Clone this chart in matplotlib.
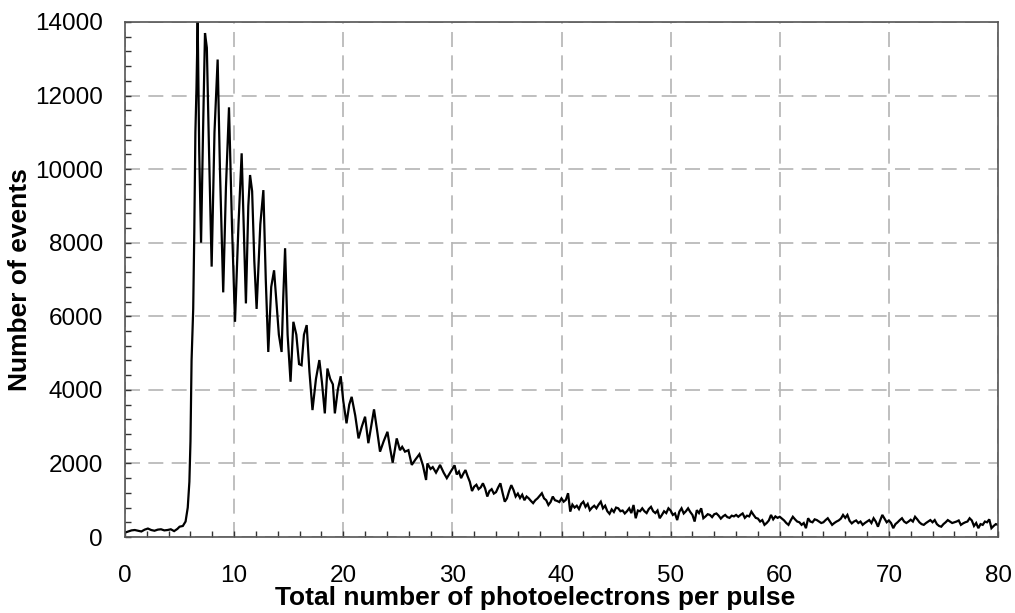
import matplotlib
matplotlib.use("Agg")
import matplotlib.pyplot as plt
from matplotlib.ticker import MultipleLocator

# photoelectron number (x) and event counts (y): rise + oscillating peak region
pe_peak = [0.0, 0.3, 0.6, 0.9, 1.2, 1.5, 1.8, 2.1, 2.4, 2.7, 3.0, 3.3, 3.6, 3.9, 4.2, 4.5, 4.8, 5.0, 5.3,
           5.55, 5.75, 5.9, 6.0, 6.1, 6.25, 6.35, 6.45, 6.55, 6.66, 6.8, 6.97, 7.15, 7.33, 7.5, 7.7, 7.94,
           8.2, 8.49, 8.7, 9.0, 9.25, 9.53, 9.8, 10.08, 10.4, 10.69, 10.9, 11.08, 11.3, 11.46, 11.65, 11.85,
           12.06, 12.4, 12.68, 12.9, 13.13, 13.4, 13.66, 13.9, 14.1, 14.35, 14.5, 14.67, 14.9, 15.17, 15.43,
           15.7, 15.95, 16.18, 16.4, 16.65, 16.9, 17.18, 17.5, 17.81, 18.05, 18.31, 18.55, 18.8, 19.05, 19.23,
           19.5, 19.77, 20.0, 20.3, 20.55, 20.77, 21.1, 21.4, 21.7, 22.0, 22.3, 22.55, 22.82, 23.1, 23.37,
           23.7, 24.05, 24.3, 24.53, 24.9, 25.2, 25.4, 25.66, 25.97, 26.28, 26.6, 26.98, 27.3, 27.59, 27.71,
           28.0, 28.2, 28.5, 28.72, 28.87, 29.2, 29.49, 29.8]
events_peak = [120, 150, 180, 190, 170, 150, 200, 230, 190, 170, 200, 210, 180, 190, 210, 160, 220, 280, 300,
               420, 800, 1500, 2600, 4800, 6200, 8300, 11000, 12200, 14000, 10500, 8000, 11000, 13700, 13300, 10500, 7350,
               11000, 12980, 10000, 6650, 9500, 11680, 8500, 5850, 8500, 10430, 8200, 6350, 9000, 9840, 9400, 7500,
               6200, 8500, 9430, 7000, 5030, 6800, 7250, 6300, 5500, 5030, 6500, 7850, 5500, 4220, 5850,
               5500, 4700, 4670, 5500, 5760, 4500, 3450, 4300, 4810, 4200, 3360, 4580, 4300, 4150, 3360,
               4000, 4370, 3700, 3090, 3600, 3810, 3300, 2680, 3000, 3270, 2550, 3000, 3470, 2900, 2320,
               2600, 2860, 2400, 2020, 2680, 2360, 2450, 2320, 2360, 1960, 2100, 2250, 1950, 1550, 2000,
               1850, 1900, 1750, 1870, 1960, 1750, 1600, 1750]

# tail region, one reading every 0.2 photoelectrons from 30 to 80
pe_tail = [30 + 0.2 * i for i in range(251)]
events_tail = [1850, 1950, 1700, 1780, 1600, 1720, 1820, 1650, 1500, 1250,
               1370, 1420, 1300, 1350, 1460, 1320, 1100, 1250, 1300, 1180,
               1220, 1350, 1460, 1200, 960, 1050, 1250, 1410, 1280, 1100,
               1180, 1060, 1150, 1000, 1100, 1050, 980, 920, 1000, 1050,
               1120, 1190, 1050, 1000, 870, 950, 1100, 1000, 980, 950,
               1050, 960, 1010, 1190, 690, 880, 800, 850, 760, 900,
               960, 820, 900, 730, 800, 850, 780, 880, 960, 780,
               850, 700, 630, 750, 680, 800, 780, 700, 720, 640,
               700, 780, 650, 870, 510, 720, 700, 780, 700, 650,
               760, 820, 700, 650, 720, 510, 600, 700, 650, 780,
               720, 600, 640, 460, 690, 780, 640, 700, 780, 680,
               600, 420, 730, 650, 780, 510, 560, 620, 600, 540,
               620, 640, 580, 500, 560, 600, 540, 520, 580, 560,
               600, 550, 600, 640, 520, 580, 560, 690, 600, 520,
               500, 420, 460, 330, 380, 450, 600, 480, 560, 520,
               550, 500, 450, 380, 330, 450, 550, 480, 420, 400,
               330, 380, 240, 510, 420, 400, 480, 460, 420, 380,
               400, 460, 510, 420, 330, 380, 420, 450, 500, 600,
               520, 600, 440, 370, 420, 450, 380, 420, 330, 380,
               420, 460, 380, 510, 420, 280, 450, 600, 500, 400,
               450, 380, 240, 350, 400, 460, 510, 420, 380, 420,
               470, 420, 550, 480, 400, 350, 330, 380, 420, 460,
               400, 460, 350, 300, 280, 350, 400, 460, 420, 380,
               400, 420, 450, 330, 370, 400, 420, 510, 450, 300,
               380, 240, 350, 330, 420, 400, 480, 240, 300, 350,
               330]

x_ticks = [0, 10, 20, 30, 40, 50, 60, 70, 80]
y_ticks = [0, 2000, 4000, 6000, 8000, 10000, 12000, 14000]

plt.rcParams['font.family'] = ['Liberation Sans', 'DejaVu Sans']

fig = plt.figure(figsize=(10.15, 6.13), dpi=100)
ax = fig.add_axes([125/1015, 1-537/613, (998-125)/1015, (537-22)/613])

ax.plot(pe_peak + pe_tail, events_peak + events_tail, color='black', lw=1.6, solid_joinstyle='miter')

ax.set_xlim(0, 80)
ax.set_ylim(0, 14000)
ax.set_xticks(x_ticks)
ax.set_yticks(y_ticks)
ax.xaxis.set_minor_locator(MultipleLocator(2))
ax.yaxis.set_minor_locator(MultipleLocator(400))

ax.grid(True, which='major', color='#b4b4b4', linestyle=(0, (9, 5)), lw=1.2)
ax.tick_params(which='both', direction='in', length=4, width=1, color='#333333',
               top=False, right=False)
ax.tick_params(axis='x', which='major', labelsize=17.5, pad=20)
ax.tick_params(axis='y', which='major', labelsize=17.5, pad=16)
for s in ax.spines.values():
    s.set_color('#555555')
    s.set_linewidth(1.2)

ax.set_xlabel('Total number of photoelectrons per pulse', fontsize=19, fontweight='bold')
ax.xaxis.set_label_coords(0.47, -0.095)
ax.set_ylabel('Number of events', fontsize=19, fontweight='bold')
ax.yaxis.set_label_coords(-0.106, 0.5)

fig.savefig('out.png', dpi=100)
